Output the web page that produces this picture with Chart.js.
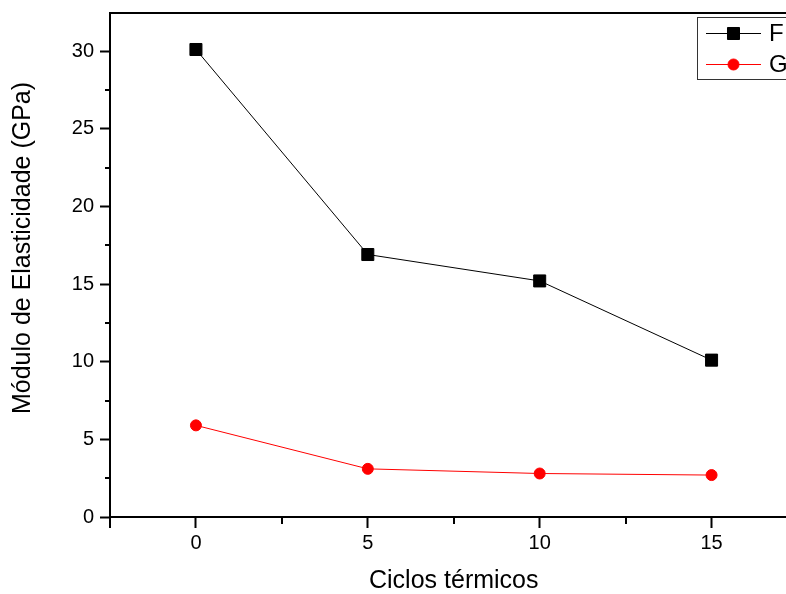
<!DOCTYPE html>
<html>
<head>
<meta charset="utf-8">
<script src="https://cdn.jsdelivr.net/npm/chart.js@4/dist/chart.umd.min.js"></script>
<style>
  html, body { margin: 0; padding: 0; background: #fff; overflow: hidden; }
  canvas { display: block; }
</style>
</head>
<body>
<canvas id="chart" width="807" height="594"></canvas>
<script>
// data
const cycles = [0, 5, 10, 15];
const seriesF = [30.1, 16.9, 15.2, 10.1];
const seriesG = [5.9, 3.1, 2.8, 2.7];

const xTicks = [0, 5, 10, 15];
const yTicks = [0, 5, 10, 15, 20, 25, 30];
const xMinor = [2.5, 7.5, 12.5, 17.5];
const yMinor = [2.5, 7.5, 12.5, 17.5, 22.5, 27.5];

const FONT = "Arial, 'Liberation Sans', sans-serif";

// minor ticks, top frame line and corner tick
const framePlugin = {
  id: "frame",
  afterDraw(chart) {
    const { ctx, chartArea: a, scales } = chart;
    ctx.save();
    ctx.strokeStyle = "#000";
    ctx.lineWidth = 2;
    ctx.beginPath();
    ctx.moveTo(a.left - 1, a.top);
    ctx.lineTo(a.right, a.top);
    ctx.moveTo(a.right, a.top);
    ctx.lineTo(a.right, a.bottom);
    // y axis runs on below the x axis
    ctx.moveTo(a.left, a.bottom);
    ctx.lineTo(a.left, a.bottom + 11);
    xMinor.forEach((v) => {
      const px = Math.round(scales.x.getPixelForValue(v));
      ctx.moveTo(px, a.bottom);
      ctx.lineTo(px, a.bottom + 7);
    });
    yMinor.forEach((v) => {
      const py = Math.round(scales.y.getPixelForValue(v));
      ctx.moveTo(a.left, py);
      ctx.lineTo(a.left - 5, py);
    });
    ctx.stroke();

    // y axis title, sits a bit above the middle like the original
    ctx.fillStyle = "#000";
    ctx.font = "25px " + FONT;
    ctx.textAlign = "center";
    ctx.textBaseline = "middle";
    ctx.translate(23, (a.top + a.bottom) / 2 - 17);
    ctx.rotate(-Math.PI / 2);
    ctx.fillText("Módulo de Elasticidade (GPa)", 0, 0);
    ctx.restore();
  },
};

// Origin-style legend: line through marker
const legendPlugin = {
  id: "originLegend",
  afterDraw(chart) {
    const { ctx } = chart;
    const boxX = 697, boxY = 17, rowH = 31;
    ctx.save();
    ctx.strokeStyle = "#333";
    ctx.lineWidth = 1;
    ctx.strokeRect(boxX + 0.5, boxY + 0.5, 110, 62);
    chart.data.datasets.forEach((ds, i) => {
      const y = boxY + 16 + i * rowH;
      ctx.strokeStyle = ds.borderColor;
      ctx.lineWidth = ds.borderWidth;
      ctx.beginPath();
      ctx.moveTo(706, y + 0.5);
      ctx.lineTo(761, y + 0.5);
      ctx.stroke();
      ctx.fillStyle = ds.pointBackgroundColor;
      ctx.strokeStyle = ds.pointBorderColor;
      ctx.lineWidth = 1;
      Chart.helpers.drawPoint(ctx, {
        pointStyle: ds.pointStyle,
        radius: ds.pointRadius,
        rotation: 0,
        borderWidth: 1,
      }, 733.5, y + 0.5);
      ctx.fillStyle = "#000";
      ctx.font = "24px " + FONT;
      ctx.textAlign = "left";
      ctx.textBaseline = "middle";
      ctx.fillText(ds.label, 769, y + 1);
    });
    ctx.restore();
  },
};

new Chart(document.getElementById("chart"), {
  type: "line",
  data: {
    datasets: [
      {
        label: "F",
        data: cycles.map((c, i) => ({ x: c, y: seriesF[i] })),
        borderColor: "#000",
        borderWidth: 1,
        pointStyle: "rect",
        pointRadius: 8.5,
        pointBackgroundColor: "#000",
        pointBorderColor: "#000",
        pointBorderWidth: 1,
      },
      {
        label: "G",
        data: cycles.map((c, i) => ({ x: c, y: seriesG[i] })),
        borderColor: "#ff0000",
        borderWidth: 1,
        pointStyle: "circle",
        pointRadius: 5.5,
        pointBackgroundColor: "#ff0000",
        pointBorderColor: "#ff0000",
        pointBorderWidth: 1,
      },
    ],
  },
  options: {
    responsive: false,
    animation: false,
    devicePixelRatio: 1,
    layout: { padding: { left: 0, top: 13, right: 0, bottom: 0 } },
    plugins: { legend: { display: false }, tooltip: { enabled: false } },
    scales: {
      x: {
        type: "linear",
        min: -2.5,
        max: 17.5,
        afterBuildTicks: (s) => { s.ticks = xTicks.map((v) => ({ value: v })); },
        afterFit: (s) => { s.height = 77; s.paddingLeft = 0; s.paddingRight = 0; },
        grid: { drawOnChartArea: false, tickLength: 11, tickWidth: 2, tickColor: "#000" },
        border: { color: "#000", width: 2 },
        ticks: { color: "#000", padding: 3, font: { family: FONT, size: 20 } },
        title: {
          display: true,
          text: "Ciclos térmicos",
          color: "#000",
          padding: { top: 0, bottom: 0 },
          font: { family: FONT, size: 25, lineHeight: 1 },
        },
      },
      y: {
        min: 0,
        max: 32.45,
        afterBuildTicks: (s) => { s.ticks = yTicks.map((v) => ({ value: v })); },
        afterFit: (s) => { s.width = 110; s.paddingTop = 0; s.paddingBottom = 0; },
        grid: { drawOnChartArea: false, tickLength: 10, tickWidth: 2, tickColor: "#000" },
        border: { color: "#000", width: 2 },
        ticks: { color: "#000", padding: 6, font: { family: FONT, size: 20 } },
      },
    },
  },
  plugins: [framePlugin, legendPlugin],
});
</script>
</body>
</html>
